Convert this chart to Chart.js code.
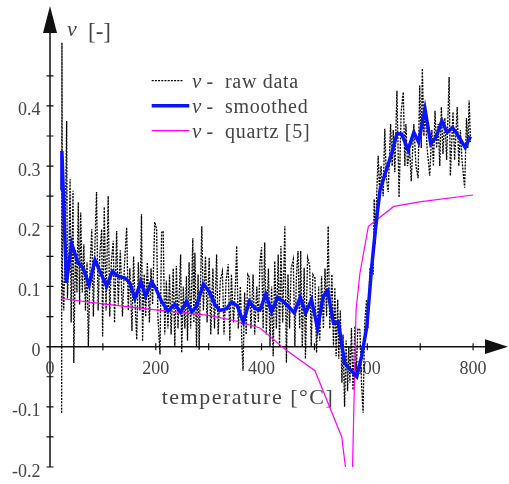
<!DOCTYPE html>
<html>
<head>
<meta charset="utf-8">
<script src="https://cdn.jsdelivr.net/npm/chart.js@4.4.1/dist/chart.umd.min.js"></script>
<style>
html, body { margin: 0; padding: 0; background: #fff; }
canvas { display: block; }
.precarga { font-family: "Liberation Serif", serif; position: absolute; left: -999px; }
</style>
</head>
<body>
<span class="precarga">ν temperature <i>ν</i></span>
<canvas id="chart" width="509" height="484"></canvas>
<script>
// raw data (temperature in C, nu)
var rawT = [22, 22.6, 23.4, 26, 29, 31.5, 33, 36, 38, 40, 43.5, 45, 48, 51, 53.5, 56, 58, 61, 64, 67,
	70, 72.5, 76, 79, 82, 85, 88, 91, 94, 97.7, 99.5, 102.6, 106, 110, 113, 116, 119.6, 122, 126, 129,
	133, 137, 141, 145, 148, 151, 155, 158, 161, 164, 167, 170, 173, 175, 178, 181, 184, 188, 191, 194,
	198, 201.6, 204, 208, 211, 214, 217, 220, 223, 226, 229, 233, 236, 239, 242, 247, 249, 252, 255, 258,
	260, 263, 266, 270, 272, 274, 277, 280, 282, 287, 290, 294, 297, 301, 304, 308, 311, 315, 318, 322,
	326, 329, 333, 337, 340, 343, 347, 351, 353, 356, 360, 363, 365, 368, 371, 374, 377, 380, 384, 387,
	391, 394, 397, 400, 403, 406, 409, 413, 416, 419, 422, 425, 428, 431.5, 434, 436.6, 440, 444, 447, 450,
	453, 456, 460, 463, 466, 469, 472, 474, 477, 480.6, 483, 487, 491, 494, 497, 501, 504, 508, 510, 513.5,
	517, 520, 523, 526, 529, 533, 536, 538.6, 541, 544, 546, 549, 552, 554, 557, 560, 562.6, 565, 567, 570,
	573, 576.5, 579, 582, 586, 589, 592, 595, 598.6, 601, 605, 608, 611, 613, 615, 618, 620.5, 623, 626, 630,
	633, 636, 639.5, 644, 647, 649, 652, 656, 660, 664, 668, 671, 673, 676, 680, 683, 688, 692, 696, 699,
	702, 704, 707, 709, 713, 718, 722, 725, 728, 731, 734, 737, 740, 743, 746.6, 750, 754.7, 757, 762, 765,
	770, 773, 776, 779, 784, 787.5, 790, 792.5, 795];
var rawNu = [-0.11, 0.505, 0.12, 0.06, 0.20, 0.375, 0.08, 0.16, 0.278, 0.04, 0.259, -0.027, 0.16, 0.09, 0.24, 0.07, 0.223, 0.09, 0.17, 0.06,
	0.14, 0.0, 0.14, 0.195, 0.05, 0.17, 0.257, 0.06, 0.15, 0.195, 0.017, 0.232, 0.06, 0.25, 0.05, 0.14, 0.176, 0.04, 0.192, 0.07,
	0.16, 0.05, 0.14, 0.198, 0.06, 0.13, 0.026, 0.15, 0.07, 0.012, 0.14, 0.06, 0.22, 0.009, 0.12, 0.05, 0.14, 0.04, 0.13, 0.07,
	0.207, 0.195, 0.05, -0.013, 0.19, 0.192, 0.02, 0.11, 0.03, 0.12, 0.02, 0.13, 0.0, 0.134, 0.03, 0.153, -0.01, 0.10, 0.03, 0.117,
	0.01, 0.14, 0.03, 0.18, 0.04, 0.156, 0.0, 0.12, -0.005, 0.20, 0.06, 0.15, 0.04, 0.148, 0.02, 0.13, 0.03, 0.153, 0.02, 0.11,
	0.125, 0.02, 0.11, 0.137, 0.01, 0.12, 0.04, 0.11, 0.167, 0.03, 0.10, 0.0, -0.04, 0.09, 0.02, 0.12, 0.115, 0.03, 0.12, 0.02,
	0.10, 0.04, 0.14, 0.165, 0.03, 0.173, 0.02, 0.13, 0.0, 0.10, -0.016, 0.142, 0.03, 0.153, 0.0, 0.167, 0.04, 0.20, -0.027, 0.12,
	0.03, 0.13, 0.145, 0.0, 0.12, 0.159, 0.03, 0.159, 0.0, 0.131, -0.02, 0.148, 0.134, 0.0, 0.12, 0.114, -0.01, 0.10, 0.01, 0.117,
	0.03, 0.13, 0.05, 0.20, 0.03, 0.12, 0.0, 0.098, -0.016, 0.078, -0.02, 0.06, -0.06, 0.02, -0.10, 0.01, -0.074, 0.0, -0.06, 0.031,
	-0.072, 0.034, -0.05, 0.03, 0.028, -0.06, -0.11, 0.04, 0.078, 0.03, 0.13, 0.134, 0.12, 0.245, 0.17, 0.26, 0.317, 0.262, 0.30, 0.25,
	0.362, 0.28, 0.257, 0.37, 0.30, 0.36, 0.29, 0.425, 0.248, 0.39, 0.423, 0.30, 0.37, 0.30, 0.328, 0.275, 0.37, 0.30, 0.28, 0.434,
	0.33, 0.462, 0.35, 0.40, 0.33, 0.284, 0.36, 0.30, 0.392, 0.33, 0.37, 0.30, 0.398, 0.32, 0.38, 0.31, 0.448, 0.284, 0.39, 0.31,
	0.398, 0.30, 0.36, 0.31, 0.264, 0.38, 0.33, 0.409, 0.34];

// smoothed
var smoothT = [21.5, 22.5, 31, 41, 52, 63, 74, 85, 94.5, 107, 118, 129, 142, 151, 160.5, 172, 181, 192, 201, 211,
	223, 236, 247, 258, 268, 277, 290, 302, 312, 321, 334, 343, 354, 365.5, 377, 388, 397, 408, 419, 430,
	441, 450.5, 462, 473, 483.5, 494.5, 506, 516.5, 525, 536, 545, 557.5, 580, 589, 599, 608, 616, 624, 634, 646,
	656, 665, 677, 688, 697, 709, 720, 730, 741, 751, 761, 772, 785, 795];
var smoothNu = [0.26, 0.325, 0.106, 0.171, 0.141, 0.13, 0.102, 0.144, 0.125, 0.1, 0.125, 0.117, 0.114, 0.106, 0.08, 0.108, 0.084, 0.108, 0.095, 0.075,
	0.059, 0.07, 0.057, 0.075, 0.058, 0.067, 0.104, 0.09, 0.07, 0.06, 0.063, 0.074, 0.068, 0.041, 0.075, 0.063, 0.061, 0.087, 0.058, 0.081,
	0.075, 0.067, 0.056, 0.082, 0.056, 0.078, 0.03, 0.084, 0.093, 0.039, 0.041, -0.028, -0.05, -0.017, 0.033, 0.13, 0.2, 0.26, 0.288, 0.321,
	0.354, 0.353, 0.327, 0.356, 0.34, 0.395, 0.337, 0.348, 0.375, 0.356, 0.364, 0.35, 0.331, 0.349];

// quartz [5]
var quartzT = [22, 100, 200, 300, 350, 397, 416, 441, 466, 501, 551.6, 570, 578.7, 586, 602, 650, 702, 800];
var quartzNu = [0.080, 0.071, 0.061, 0.052, 0.043, 0.031, 0.017, -0.002, -0.018, -0.04, -0.15, -0.28, 0.061, 0.122, 0.200, 0.233, 0.241, 0.252];

var xTickMarks = [100, 200, 300, 400, 500, 600, 700, 800];
var xTickLabels = [0, 200, 400, 600, 800];
var yTickMarks = [-0.2, -0.15, -0.1, -0.05, 0.05, 0.1, 0.15, 0.2, 0.25, 0.3, 0.35, 0.4, 0.45];
var yTickLabels = [-0.2, -0.1, 0, 0.1, 0.2, 0.3, 0.4];

var puntos = function (xs, ys) {
	return xs.map(function (x, i) { return {x: x, y: ys[i]}; });
};

var serif = '"Liberation Serif", "DejaVu Serif", serif';
var textColor = '#444';
var axisColor = '#111';

var ejes = {
	id: 'ejes',
	beforeDatasetsDraw: function (chart) {
		var ctx = chart.ctx;
		var sx = chart.scales.x, sy = chart.scales.y;
		var x0 = sx.getPixelForValue(0), y0 = sy.getPixelForValue(0);
		var top = chart.chartArea.top, right = chart.chartArea.right;
		var yBottom = sy.getPixelForValue(-0.2);
		ctx.save();
		ctx.strokeStyle = axisColor;
		ctx.fillStyle = axisColor;
		ctx.lineWidth = 1.5;
		// axis lines
		ctx.beginPath();
		ctx.moveTo(x0, yBottom);
		ctx.lineTo(x0, top + 20);
		ctx.moveTo(x0 - 3.5, y0);
		ctx.lineTo(right - 16, y0);
		ctx.stroke();
		// arrows
		ctx.beginPath();
		ctx.moveTo(x0, top);
		ctx.lineTo(x0 - 7, top + 27);
		ctx.lineTo(x0 + 7, top + 27);
		ctx.closePath();
		ctx.fill();
		ctx.beginPath();
		ctx.moveTo(right, y0);
		ctx.lineTo(right - 23, y0 - 7.3);
		ctx.lineTo(right - 23, y0 + 7.3);
		ctx.closePath();
		ctx.fill();
		// ticks
		ctx.lineWidth = 1.2;
		ctx.beginPath();
		xTickMarks.forEach(function (v) {
			var px = sx.getPixelForValue(v);
			ctx.moveTo(px, y0 - 3.5);
			ctx.lineTo(px, y0 + 3.5);
		});
		yTickMarks.forEach(function (v) {
			var py = sy.getPixelForValue(v);
			ctx.moveTo(x0 - 3.5, py);
			ctx.lineTo(x0 + 3.5, py);
		});
		ctx.stroke();
		// tick labels
		ctx.fillStyle = textColor;
		ctx.font = '18px ' + serif;
		ctx.textBaseline = 'alphabetic';
		ctx.textAlign = 'center';
		xTickLabels.forEach(function (v) {
			ctx.fillText(String(v), sx.getPixelForValue(v), y0 + 27);
		});
		ctx.textAlign = 'right';
		yTickLabels.forEach(function (v) {
			ctx.fillText(String(v), x0 - 9.5, sy.getPixelForValue(v) + 9.5);
		});
		// axis titles
		ctx.textAlign = 'center';
		ctx.font = '22px ' + serif;
		ctx.letterSpacing = '1.5px';
		ctx.fillText('temperature [°C]', 248, 404);
		ctx.letterSpacing = '0px';
		ctx.textAlign = 'left';
		ctx.font = 'italic 22px ' + serif;
		ctx.fillText('ν', 67, 36);
		ctx.font = '23px ' + serif;
		ctx.fillText('[-]', 88, 39);
		ctx.restore();
	},
	afterDatasetsDraw: function (chart) {
		var ctx = chart.ctx;
		var filas = chart.data.datasets.slice().sort(function (a, b) { return a.legendPos - b.legendPos; });
		ctx.save();
		filas.forEach(function (ds, i) {
			var ly = 80.7 + i * 25;
			ctx.beginPath();
			ctx.strokeStyle = ds.borderColor;
			ctx.lineWidth = ds.borderWidth;
			ctx.setLineDash(ds.borderDash || []);
			ctx.moveTo(151.7, ly);
			ctx.lineTo(ds.borderDash ? 183.3 : 189.3, ly);
			ctx.stroke();
			ctx.setLineDash([]);
			ctx.fillStyle = textColor;
			ctx.font = 'italic 21px ' + serif;
			ctx.fillText('ν', 192, ly + 7);
			ctx.font = '20px ' + serif;
			ctx.fillText('-', 206.5, ly + 7);
			ctx.letterSpacing = '0.7px';
			ctx.fillText(ds.label, 225, ly + 7);
			ctx.letterSpacing = '0px';
		});
		ctx.restore();
	}
};

var inicio = function () {
	var ctx = document.getElementById('chart').getContext('2d');
	var grafico = new Chart(ctx, {
		type: 'scatter',
		data: {
			datasets: [{
				label: 'smoothed',
				legendPos: 1,
				data: puntos(smoothT, smoothNu),
				showLine: true,
				borderColor: '#0a14ff',
				borderWidth: 3.5,
				pointRadius: 0,
				order: 0
			}, {
				label: 'quartz [5]',
				legendPos: 2,
				data: puntos(quartzT, quartzNu),
				showLine: true,
				borderColor: '#ff00ff',
				borderWidth: 1.2,
				pointRadius: 0,
				order: 1
			}, {
				label: 'raw data',
				legendPos: 0,
				data: puntos(rawT, rawNu),
				showLine: true,
				borderColor: '#000',
				borderWidth: 1.3,
				borderDash: [2, 1.2],
				pointRadius: 0,
				order: 2
			}]
		},
		options: {
			responsive: false,
			animation: false,
			events: [],
			devicePixelRatio: 1,
			layout: { padding: { left: 50, right: 1, top: 6, bottom: 17 } },
			plugins: { legend: { display: false }, tooltip: { enabled: false } },
			scales: {
				x: { type: 'linear', min: 0, max: 866, display: false },
				y: { type: 'linear', min: -0.2, max: 0.566, display: false }
			}
		},
		plugins: [ejes]
	});
};

Promise.all([
	document.fonts.load('18px "Liberation Serif"'),
	document.fonts.load('italic 22px "Liberation Serif"')
]).then(inicio, inicio);
</script>
</body>
</html>
